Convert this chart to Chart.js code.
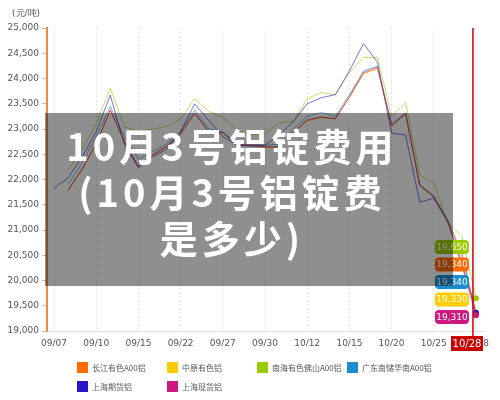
<!DOCTYPE html>
<html>
<head>
<meta charset="utf-8">
<script src="https://cdn.jsdelivr.net/npm/chart.js"></script>
<title>铝锭价格走势</title>
<style>
  body { margin: 0; background: #fff; font-family: "DejaVu Sans", sans-serif; }
  #wrap { position: relative; width: 500px; height: 400px; }
  #unit { position: absolute; left: 12px; top: 7px; font-size: 9px; color: #555; }
  #band { position: absolute; left: 45px; top: 113px; width: 408px; height: 173px; background: rgba(0,0,0,0.44); }
  #headline { position: absolute; left: 20px; width: 424px; top: 122px; text-align: center; color: #fff;
              font: bold 38px/46px "Noto Sans CJK SC", sans-serif; letter-spacing: 4px; }
  #legend { position: absolute; left: 77px; top: 362px; display: grid; grid-template-columns: repeat(4, 90px);
            row-gap: 8px; font: 8px "Noto Sans CJK SC", sans-serif; color: #555; }
  .item { display: flex; align-items: center; height: 11px; white-space: nowrap; }
  .sw { width: 11px; height: 11px; margin-right: 4px; flex: none; }
</style>
</head>
<body>
<div id="wrap">
  <canvas id="priceChart" width="500" height="400"></canvas>
  <div id="unit">(元/吨)</div>
  <div id="band"></div>
  <div id="headline">10月3号铝锭费用<br>(10月3号铝锭费<br>是多少)</div>
  <div id="legend"></div>
</div>

<script>
const dates = ['09/07','09/08','09/09','09/10','09/13','09/14','09/15','09/16','09/17','09/22',
               '09/23','09/24','09/27','09/28','09/29','09/30','10/08','10/11','10/12','10/13',
               '10/14','10/15','10/18','10/19','10/20','10/21','10/22','10/25','10/26','10/27','10/28'];

const seriesNames = ['长江有色A00铝', '中原有色铝', '南海有色佛山A00铝', '广东南储华南A00铝', '上海期货铝', '上海现货铝'];
const seriesColors = ['#ff6a00', '#ffcc00', '#99cc00', '#1b8dd0', '#2a14c8', '#cc1a80'];

const changjiang = [null,21780,22200,22700,23370,22750,22250,22480,22650,22900,
                    23310,22940,22930,22680,22680,22640,22650,22950,23170,23230,
                    23210,23630,24100,24200,23070,23310,21890,21660,21180,20550,19340];
const zhongyuan  = [null,21790,22190,22700,23360,22740,22260,22470,22640,22900,
                    23300,22950,22920,22680,22670,22640,22630,22910,23160,23220,
                    23200,23620,24090,24190,23060,23300,21880,21650,21170,20520,19330];
const nanhai     = [null,22190,22600,23110,23810,23050,22950,23000,23050,23200,
                    23600,23350,23230,22980,22880,22900,23130,23150,23600,23720,
                    23680,24120,24420,24420,23250,23530,22090,21930,21150,20870,19650];
const guangdong  = [null,21900,22330,22850,23450,22850,22400,22550,22700,22950,
                    23380,23000,22950,22700,22700,22680,22700,23000,23250,23330,
                    23250,23680,24150,24240,23100,23320,21900,21680,21200,20500,19340];
const shfe       = [21830,22030,22450,22950,23670,22700,22230,22450,22600,22950,
                    23500,23170,22850,22680,22660,22680,22880,23140,23500,23620,
                    23680,24150,24690,24320,22920,22880,21550,21630,21150,20350,19360];
const shspot     = [null,21790,22210,22720,23380,22760,22260,22490,22660,22910,
                    23320,22950,22930,22690,22680,22650,22640,22930,23180,23240,
                    23200,23640,24120,24230,23060,23300,21880,21650,21170,20300,19310];

const yTicks = [19000, 19500, 20000, 20500, 21000, 21500, 22000, 22500, 23000, 23500, 24000, 24500, 25000];

const allSeries = [changjiang, zhongyuan, nanhai, guangdong, shfe, shspot];
// drawing order: lower is on top (magenta and purple over the rest)
const drawOrder = [3, 4, 2, 3, 1, 0];
const hoverIndex = dates.length - 1;
// series shown in the hover labels, top to bottom
const labelOrder = [2, 0, 3, 1, 5];

function fmt(v) { return v.toLocaleString('en-US'); }
function alpha(hex, a) {
  const n = parseInt(hex.slice(1), 16);
  return `rgba(${n >> 16},${(n >> 8) & 255},${n & 255},${a})`;
}

const hoverPlugin = {
  id: 'hover',
  afterDatasetsDraw(chart) {
    const { ctx, chartArea, scales } = chart;
    const px = scales.x.getPixelForValue(hoverIndex);
    ctx.save();
    // crosshair
    ctx.strokeStyle = '#cc0000';
    ctx.lineWidth = 1.5;
    ctx.beginPath();
    ctx.moveTo(px - 3, chartArea.top);
    ctx.lineTo(px - 3, chartArea.bottom + 5);
    ctx.stroke();
    // date box
    ctx.fillStyle = '#cc0000';
    ctx.fillRect(px - 25, chartArea.bottom + 5, 32, 15);
    ctx.fillStyle = '#fff';
    ctx.font = '10px "DejaVu Sans"';
    ctx.textAlign = 'center';
    ctx.textBaseline = 'middle';
    ctx.fillText(dates[hoverIndex], px - 9, chartArea.bottom + 13);
    // value boxes
    ctx.font = '9px "DejaVu Sans"';
    labelOrder.forEach((s, k) => {
      const cy = 247 + k * 17.5;
      ctx.fillStyle = seriesColors[s];
      ctx.beginPath();
      ctx.roundRect(px - 41, cy - 7, 34, 14, 4);
      ctx.fill();
      ctx.fillStyle = '#fff';
      ctx.fillText(fmt(allSeries[s][hoverIndex]), px - 24, cy + 0.5);
    });
    ctx.restore();
  }
};

const ctx = document.getElementById('priceChart').getContext('2d');

new Chart(ctx, {
  type: 'line',
  data: {
    labels: dates,
    datasets: allSeries.map((d, i) => ({
      label: seriesNames[i],
      data: d,
      order: drawOrder[i],
      borderColor: alpha(seriesColors[i], 0.6),
      backgroundColor: seriesColors[i],
      borderWidth: 1,
      tension: 0,
      pointRadius: c => (c.dataIndex === hoverIndex ? 3 : 0),
      pointBorderWidth: 0
    }))
  },
  options: {
    responsive: false,
    animation: false,
    layout: { padding: { left: 0, top: 28, right: 17, bottom: 47 } },
    plugins: { legend: { display: false }, tooltip: { enabled: false } },
    scales: {
      x: {
        offset: true,
        afterFit(scale) { scale.height = 22; },
        grid: { offset: false, color: '#e4e4e4', drawTicks: false },
        border: { color: '#dddddd', dash: [2, 2] },
        ticks: {
          autoSkip: false, maxRotation: 0, padding: 7,
          color: '#555', font: { size: 9, family: 'DejaVu Sans' },
          callback(v, i) { return i % 3 === 0 ? dates[i] : null; }
        }
      },
      y: {
        min: yTicks[0],
        max: yTicks[yTicks.length - 1],
        afterFit(scale) { scale.width = 47; },
        afterBuildTicks(scale) { scale.ticks = yTicks.map(v => ({ value: v })); },
        grid: { drawOnChartArea: false, color: '#bbbbbb', tickLength: 5 },
        border: { color: '#f08a3c', width: 2 },
        ticks: {
          color: '#555', padding: 3, font: { size: 9, family: 'DejaVu Sans' },
          callback: v => fmt(v)
        }
      }
    }
  },
  plugins: [hoverPlugin]
});

const legend = document.getElementById('legend');
seriesNames.forEach((name, i) => {
  const item = document.createElement('div');
  item.className = 'item';
  item.innerHTML = `<span class="sw" style="background:${seriesColors[i]}"></span>${name}`;
  legend.appendChild(item);
});
</script>
</body>
</html>
